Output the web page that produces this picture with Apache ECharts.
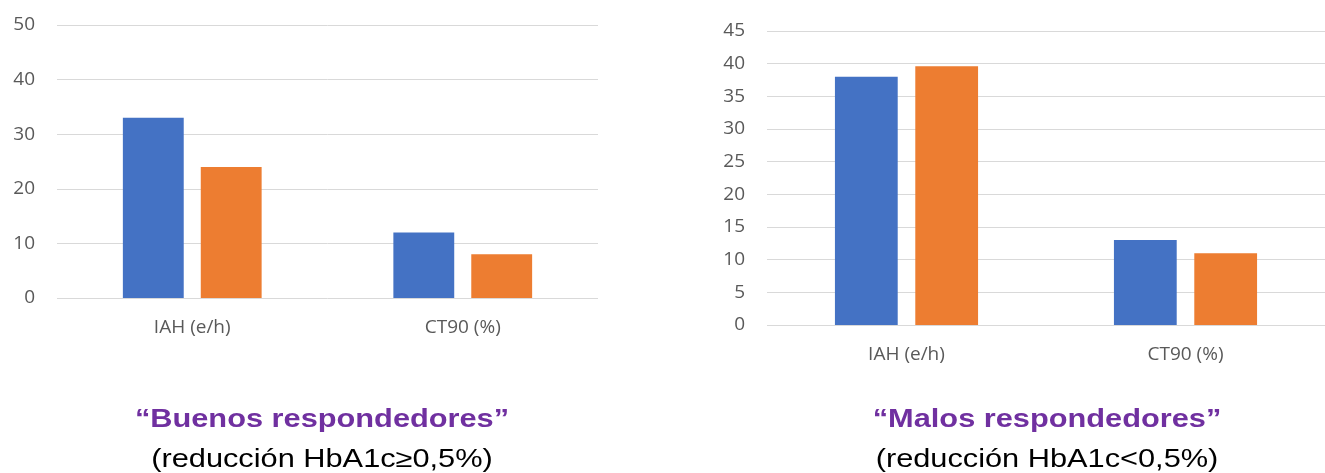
<!DOCTYPE html>
<html>
<head>
<meta charset="utf-8">
<script src="https://cdn.jsdelivr.net/npm/echarts@6/dist/echarts.min.js"></script>
<style>
  html, body { margin: 0; padding: 0; background: #fff; }
  #chart { width: 1325px; height: 473px; }
</style>
</head>
<body>
<div id="chart"></div>
<script>
// categories and values
var categories = ['IAH (e/h)', 'CT90 (%)'];
var buenosAzul = [33, 12];
var buenosNaranja = [24, 8];
var malosAzul = [38, 13];
var malosNaranja = [39.6, 11];

var axisFont = { fontFamily: 'Open Sans', fontSize: 19, color: '#595959' };

function yAxisFor(gridIndex, max, step) {
  return {
    type: 'value',
    gridIndex: gridIndex,
    min: 0,
    max: max,
    interval: step,
    axisLine: { show: false },
    axisTick: { show: false },
    axisLabel: Object.assign({ margin: 22 }, axisFont),
    splitLine: { lineStyle: { color: '#d9d9d9', width: 1 } }
  };
}

function xAxisFor(gridIndex) {
  return {
    type: 'category',
    gridIndex: gridIndex,
    data: categories,
    axisLine: { show: false },
    axisTick: { show: false },
    axisLabel: Object.assign({ margin: 20 }, axisFont)
  };
}

function barSeries(idx, data, color) {
  return {
    type: 'bar',
    xAxisIndex: idx,
    yAxisIndex: idx,
    data: data,
    barWidth: '22.5%',
    barGap: '28%',
    itemStyle: { color: color },
    silent: true
  };
}

// caption text, drawn a bit wider like the slide
function caption(x, y, text, bold, color) {
  return {
    type: 'text',
    x: x,
    y: y,
    scaleX: 1.23,
    style: {
      x: 0,
      y: 0,
      text: text,
      fill: color,
      font: (bold ? 'bold ' : '') + '25px "Liberation Sans", Arial, sans-serif',
      textAlign: 'center',
      textVerticalAlign: 'middle'
    }
  };
}

var chart = echarts.init(document.getElementById('chart'));

var option = {
  backgroundColor: '#ffffff',
  animation: false,
  graphic: [
    caption(322, 420, '\u201cBuenos respondedores\u201d', true, '#7030A0'),
    caption(322, 460, '(reducción HbA1c\u22650,5%)', false, '#000000'),
    caption(1047, 420, '\u201cMalos respondedores\u201d', true, '#7030A0'),
    caption(1047, 460, '(reducción HbA1c<0,5%)', false, '#000000')
  ],
  grid: [
    { left: 57, top: 25, width: 541, height: 273 },
    { left: 767, top: 31, width: 568, height: 294 }
  ],
  xAxis: [xAxisFor(0), xAxisFor(1)],
  yAxis: [yAxisFor(0, 50, 10), yAxisFor(1, 45, 5)],
  series: [
    barSeries(0, buenosAzul, '#4472C4'),
    barSeries(0, buenosNaranja, '#ED7D31'),
    barSeries(1, malosAzul, '#4472C4'),
    barSeries(1, malosNaranja, '#ED7D31')
  ]
};

chart.setOption(option);
</script>
</body>
</html>
